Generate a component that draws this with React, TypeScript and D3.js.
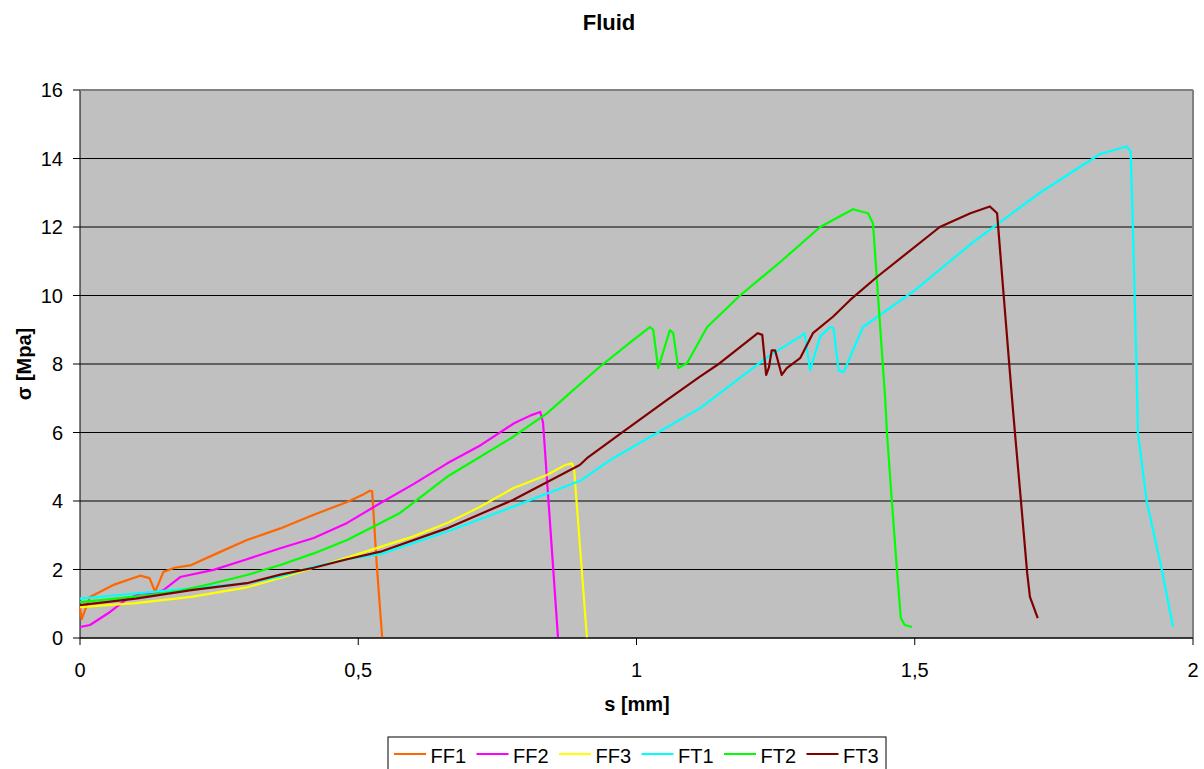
import * as d3 from "d3";

// s [mm], sigma [MPa]
const ff1S = [0, 0.003, 0.018, 0.06, 0.108, 0.125, 0.135, 0.15, 0.17, 0.2, 0.25, 0.3, 0.36, 0.42, 0.48, 0.51, 0.521, 0.525, 0.533, 0.543];
const ff1V = [0.9, 0.55, 1.2, 1.55, 1.82, 1.75, 1.35, 1.93, 2.05, 2.13, 2.5, 2.86, 3.2, 3.6, 3.97, 4.2, 4.3, 4.28, 2.2, 0];

const ff2S = [0, 0.018, 0.054, 0.081, 0.108, 0.135, 0.15, 0.18, 0.24, 0.3, 0.36, 0.42, 0.48, 0.54, 0.6, 0.66, 0.72, 0.78, 0.81, 0.827, 0.832, 0.859];
const ff2V = [0.32, 0.38, 0.76, 1.1, 1.3, 1.3, 1.4, 1.78, 1.99, 2.3, 2.62, 2.92, 3.36, 3.94, 4.5, 5.1, 5.63, 6.27, 6.5, 6.6, 6.3, 0];

const ff3S = [0, 0.1, 0.2, 0.3, 0.36, 0.42, 0.48, 0.54, 0.598, 0.659, 0.719, 0.778, 0.839, 0.872, 0.884, 0.888, 0.911];
const ff3V = [0.9, 1.02, 1.2, 1.48, 1.75, 2.05, 2.35, 2.66, 2.96, 3.35, 3.83, 4.37, 4.76, 5.05, 5.1, 4.9, 0];

const ft1S = [0, 0.1, 0.2, 0.3, 0.36, 0.42, 0.48, 0.54, 0.659, 0.778, 0.9, 0.958, 1.115, 1.235, 1.294, 1.302, 1.312, 1.33, 1.348, 1.354, 1.363, 1.372, 1.407, 1.5, 1.605, 1.725, 1.833, 1.881, 1.888, 1.892, 1.899, 1.901, 1.917, 1.944, 1.964];
const ft1V = [1.15, 1.3, 1.45, 1.6, 1.8, 2.08, 2.3, 2.45, 3.1, 3.83, 4.6, 5.25, 6.72, 8.2, 8.8, 8.9, 7.82, 8.8, 9.08, 9.05, 7.82, 7.76, 9.08, 10.15, 11.56, 13.0, 14.13, 14.35, 14.2, 12.0, 7.53, 6.0, 3.97, 1.99, 0.33];

const ft2S = [0, 0.108, 0.18, 0.24, 0.3, 0.36, 0.42, 0.48, 0.54, 0.575, 0.659, 0.778, 0.839, 0.863, 0.934, 0.994, 1.024, 1.03, 1.039, 1.06, 1.066, 1.075, 1.091, 1.127, 1.186, 1.26, 1.33, 1.389, 1.416, 1.425, 1.432, 1.447, 1.45, 1.459, 1.468, 1.475, 1.482, 1.495];
const ft2V = [1.05, 1.22, 1.38, 1.6, 1.84, 2.13, 2.47, 2.86, 3.36, 3.65, 4.7, 5.87, 6.56, 6.9, 7.92, 8.7, 9.08, 9.0, 7.88, 8.99, 8.9, 7.88, 8.03, 9.08, 10.0, 11.0, 12.0, 12.52, 12.4, 12.1, 10.45, 6.95, 6.0, 3.97, 1.99, 0.58, 0.38, 0.32];

const ft3S = [0, 0.1, 0.2, 0.3, 0.36, 0.42, 0.48, 0.54, 0.659, 0.778, 0.898, 0.911, 0.97, 1.055, 1.114, 1.145, 1.218, 1.226, 1.233, 1.238, 1.243, 1.249, 1.261, 1.27, 1.294, 1.317, 1.353, 1.384, 1.432, 1.545, 1.6, 1.635, 1.648, 1.659, 1.675, 1.68, 1.691, 1.702, 1.707, 1.721];
const ft3V = [0.96, 1.15, 1.4, 1.6, 1.85, 2.05, 2.3, 2.52, 3.2, 4.03, 5.05, 5.25, 5.95, 6.95, 7.63, 7.97, 8.9, 8.85, 7.68, 7.9, 8.4, 8.4, 7.68, 7.88, 8.17, 8.9, 9.38, 9.87, 10.54, 12.0, 12.4, 12.6, 12.4, 10.16, 6.95, 6.0, 3.97, 1.9, 1.2, 0.58];

const seriesNames = ["FF1", "FF2", "FF3", "FT1", "FT2", "FT3"];
const seriesColors = ["#FF6600", "#FF00FF", "#FFFF00", "#00FFFF", "#00FF00", "#800000"];
const seriesData = [
  [ff1S, ff1V],
  [ff2S, ff2V],
  [ff3S, ff3V],
  [ft1S, ft1V],
  [ft2S, ft2V],
  [ft3S, ft3V],
];

const xTicks = [0, 0.5, 1, 1.5, 2];
const yTicks = [0, 2, 4, 6, 8, 10, 12, 14, 16];

const font = "'Liberation Sans', Arial, sans-serif";

export default function App() {
  const W = 1204;
  const H = 769;
  const plot = { left: 80, top: 90, right: 1193, bottom: 638 };

  const x = d3.scaleLinear().domain([0, 2]).range([plot.left, plot.right]);
  const y = d3.scaleLinear().domain([0, 16]).range([plot.bottom, plot.top]);

  const line = d3
    .line<[number, number]>()
    .x((d) => x(d[0]))
    .y((d) => y(d[1]));

  const fmt = (v: number) => String(v).replace(".", ",");

  return (
    <svg width={W} height={H} style={{ position: "absolute", left: 0, top: 0, background: "#fff" }}>
      <text x={609} y={30} textAnchor="middle" fontFamily={font} fontWeight="bold" fontSize={22}>
        Fluid
      </text>

      <rect x={plot.left} y={plot.top} width={plot.right - plot.left} height={plot.bottom - plot.top} fill="#C0C0C0" />

      {yTicks.map((t) => (
        <g key={"y" + t}>
          <line x1={plot.left} x2={plot.right} y1={y(t)} y2={y(t)} stroke="#000" strokeWidth={1} />
          <line x1={plot.left - 7} x2={plot.left} y1={y(t)} y2={y(t)} stroke="#000" />
          <text x={plot.left - 17} y={y(t) + 7} textAnchor="end" fontFamily={font} fontSize={20}>
            {t}
          </text>
        </g>
      ))}

      {xTicks.map((t) => (
        <g key={"x" + t}>
          <line x1={x(t)} x2={x(t)} y1={plot.bottom} y2={plot.bottom + 7} stroke="#000" />
          <text x={x(t)} y={677} textAnchor="middle" fontFamily={font} fontSize={20}>
            {fmt(t)}
          </text>
        </g>
      ))}

      <line x1={plot.left} x2={plot.left} y1={plot.top} y2={plot.bottom} stroke="#000" />
      <line x1={plot.right} x2={plot.right} y1={plot.top} y2={plot.bottom} stroke="#808080" strokeWidth={2} />
      <line x1={plot.left} x2={plot.right} y1={plot.top} y2={plot.top} stroke="#808080" strokeWidth={2} />

      {seriesData.map(([s, v], i) => (
        <path
          key={seriesNames[i]}
          d={line(s.map((sv, j) => [sv, v[j]] as [number, number])) || ""}
          fill="none"
          stroke={seriesColors[i]}
          strokeWidth={2.2}
          strokeLinejoin="round"
        />
      ))}

      <line x1={plot.left} x2={plot.right} y1={plot.bottom} y2={plot.bottom} stroke="#000" />

      <text x={637} y={711} textAnchor="middle" fontFamily={font} fontWeight="bold" fontSize={20}>
        s [mm]
      </text>
      <text
        transform={`translate(31, 364) rotate(-90)`}
        textAnchor="middle"
        fontFamily={font}
        fontWeight="bold"
        fontSize={20}
      >
        σ [Mpa]
      </text>

      <rect x={388} y={737} width={498} height={40} fill="#fff" stroke="#000" />
      {seriesNames.map((n, i) => {
        const lx = 394 + i * 82.5;
        return (
          <g key={"lg" + n}>
            <line x1={lx} x2={lx + 32} y1={754} y2={754} stroke={seriesColors[i]} strokeWidth={2} />
            <text x={lx + 36.5} y={763} fontFamily={font} fontSize={20}>
              {n}
            </text>
          </g>
        );
      })}
    </svg>
  );
}
